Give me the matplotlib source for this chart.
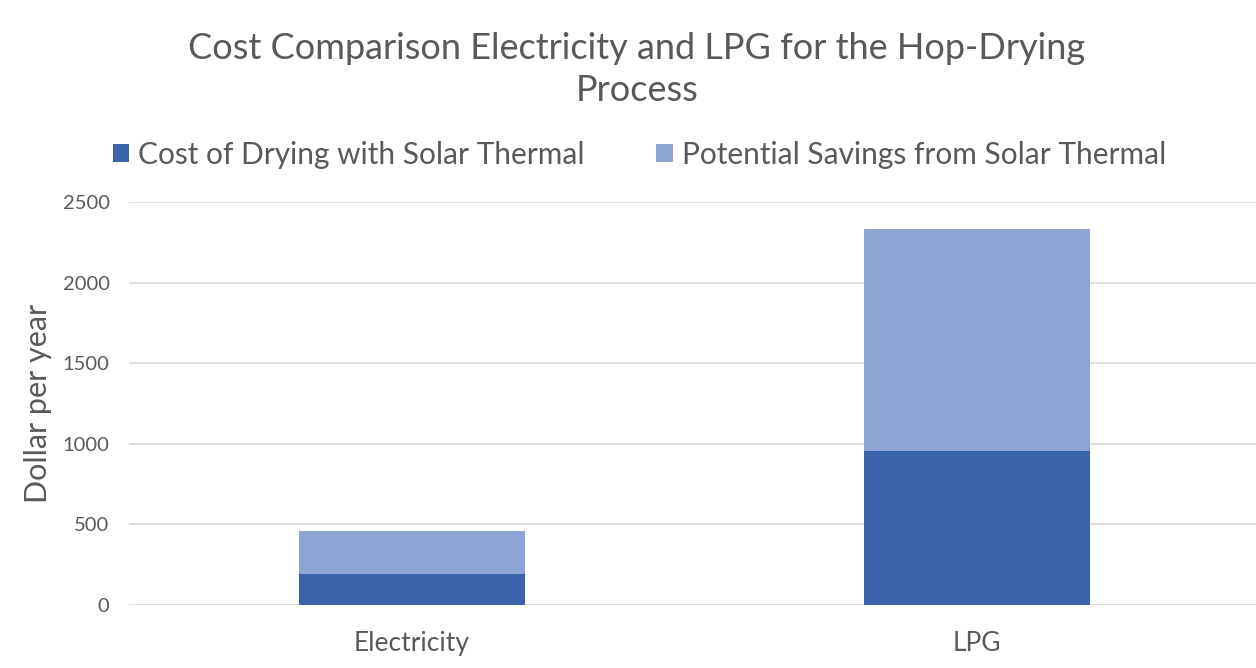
import matplotlib
matplotlib.use('Agg')
from matplotlib import pyplot as plt
import numpy as np

categories = ['Electricity', 'LPG']
cost_solar = [190, 958]
savings_solar = [271, 1374]
y_ticks = [0, 500, 1000, 1500, 2000, 2500]

plt.rcParams['font.family'] = ['Lato', 'DejaVu Sans']
text_color = '#595959'
dark_blue = '#3A63AB'
light_blue = '#8FA3D4'

fig = plt.figure(figsize=(12.56, 6.68), dpi=100)
ax = fig.add_axes([0.1027, 0.0943, 0.9, 0.603])

x = np.arange(len(categories))
ax.bar(x, cost_solar, width=0.4, color=dark_blue, label='Cost of Drying with Solar Thermal', zorder=3)
ax.bar(x, savings_solar, width=0.4, bottom=cost_solar, color=light_blue,
       label='Potential Savings from Solar Thermal', zorder=3)

ax.set_xlim(-0.5, 1.5)
ax.set_ylim(0, 2500)
ax.set_yticks(y_ticks)
ax.set_xticks(x)
ax.set_xticklabels(categories)
ax.tick_params(axis='both', length=0, colors=text_color)
ax.tick_params(axis='y', pad=14, labelsize=14.5)
ax.tick_params(axis='x', pad=19, labelsize=19)
ax.yaxis.grid(True, color='#D9D9D9', linewidth=1.2, zorder=0)
for s in ax.spines.values():
    s.set_visible(False)

ax.set_ylabel('Dollar per year', fontsize=22, color=text_color)
ax.yaxis.set_label_coords(-0.068, 0.5)

fig.text(0.507, 0.896, 'Cost Comparison Electricity and LPG for the Hop-Drying\nProcess',
         ha='center', va='center', fontsize=26, color=text_color, linespacing=1.3)

leg = fig.legend(loc='center', bbox_to_anchor=(0.509, 0.768), ncol=2, frameon=False,
                 fontsize=21.5, handlelength=0.55, handleheight=0.55, handletextpad=0.3,
                 columnspacing=2.4)
for t in leg.get_texts():
    t.set_color(text_color)

fig.savefig('out.png', dpi=100)
